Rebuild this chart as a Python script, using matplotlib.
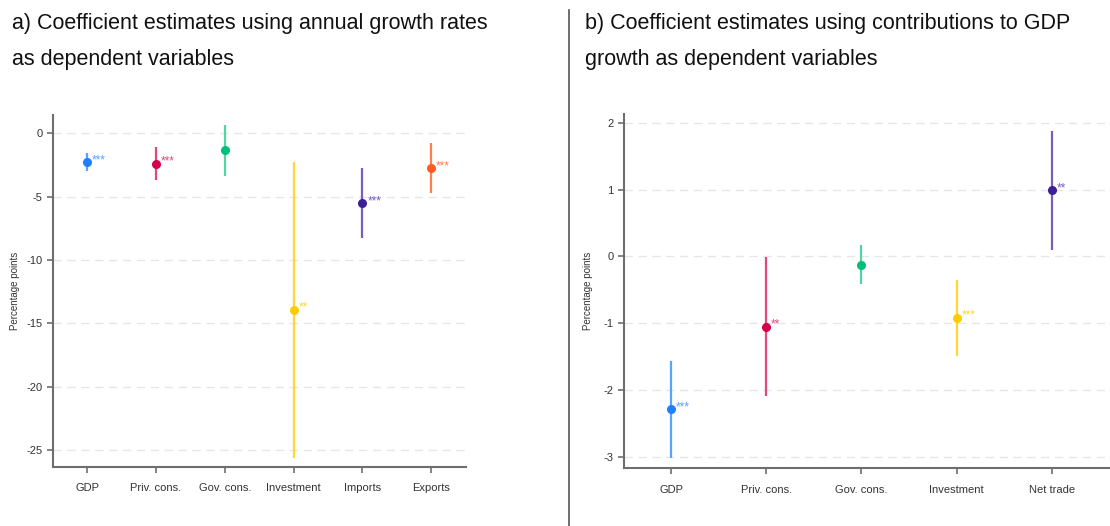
#!/usr/bin/env python3
"""Coefficient plots: annual growth rates vs contributions to GDP growth."""
import matplotlib
matplotlib.use("Agg")
import matplotlib.pyplot as plt
from matplotlib.lines import Line2D

plt.rcParams["font.family"] = ["Liberation Sans", "DejaVu Sans"]

# Panel a) - annual growth rates
CATS_A = ["GDP", "Priv. cons.", "Gov. cons.", "Investment", "Imports", "Exports"]
COEF_A = [-2.29, -2.40, -1.34, -13.92, -5.50, -2.76]
LOW_A = [-2.97, -3.68, -3.37, -25.6, -8.24, -4.74]
HIGH_A = [-1.58, -1.10, 0.66, -2.24, -2.74, -0.79]
STARS_A = ["***", "***", "", "**", "***", "***"]

# Panel b) - contributions to GDP growth
CATS_B = ["GDP", "Priv. cons.", "Gov. cons.", "Investment", "Net trade"]
COEF_B = [-2.29, -1.05, -0.135, -0.92, 0.99]
LOW_B = [-3.01, -2.09, -0.41, -1.49, 0.10]
HIGH_B = [-1.56, -0.01, 0.165, -0.35, 1.87]
STARS_B = ["***", "**", "", "***", "**"]

COLORS = {
    "GDP": "#1f7fff",
    "Priv. cons.": "#d6004c",
    "Gov. cons.": "#00bf7a",
    "Investment": "#ffcc00",
    "Imports": "#3e1e96",
    "Net trade": "#3e1e96",
    "Exports": "#ff5a24",
}
LINE_COLORS = {
    "GDP": "#5aa2ff",
    "Priv. cons.": "#e04a7a",
    "Gov. cons.": "#4fd6a2",
    "Investment": "#ffd633",
    "Imports": "#7a5cc0",
    "Net trade": "#7a5cc0",
    "Exports": "#ff7e52",
}

W, H = 1110, 526


def draw_panel(ax, cats, coef, low, high, stars, yticks, ylim, xlim, yoff):
    x = list(range(1, len(cats) + 1))
    for xi, c, lo, hi, c_coef, st in zip(x, cats, low, high, coef, stars):
        ax.plot([xi, xi], [lo, hi], color=LINE_COLORS[c], lw=1.6, solid_capstyle="butt", zorder=3)
        ax.plot(xi, c_coef, "o", color=COLORS[c], ms=5.5, zorder=4)
        if st:
            ax.annotate(st, (xi, c_coef), xytext=(3.5, 1.5), textcoords="offset points",
                        ha="left", va="center", fontsize=8.5, color=LINE_COLORS[c])
    ax.set_xticks(x)
    ax.set_xticklabels(cats)
    ax.set_yticks(yticks)
    ax.set_yticklabels([str(t) for t in yticks])
    ax.set_xlim(*xlim)
    ax.set_ylim(*ylim)
    for t in yticks:
        ax.axhline(t, color="#e6e6e6", lw=1, ls=(0, (6, 4)), zorder=1)
    for s in ["top", "right"]:
        ax.spines[s].set_visible(False)
    for s in ["left", "bottom"]:
        ax.spines[s].set_color("#6e6e6e")
        ax.spines[s].set_linewidth(1.5)
    ax.tick_params(axis="both", colors="#6e6e6e", labelcolor="#333333", labelsize=8,
                   length=4, width=1.2)
    ax.tick_params(axis="x", pad=8)
    ax.set_ylabel("Percentage points", fontsize=7, color="#333333")
    ax.yaxis.set_label_coords(yoff, 0.5)


fig = plt.figure(figsize=(W / 100, H / 100), dpi=100)

ax_a = fig.add_axes([52.7 / W, 1 - 466.7 / H, 413 / W, 351.7 / H])
draw_panel(ax_a, CATS_A, COEF_A, LOW_A, HIGH_A, STARS_A,
           [0, -5, -10, -15, -20, -25], (-26.3, 1.45), (0.5, 6.5), -33 / 413)

ax_b = fig.add_axes([624 / W, 1 - 468.3 / H, (W - 624) / W, 354.3 / H])
draw_panel(ax_b, CATS_B, COEF_B, LOW_B, HIGH_B, STARS_B,
           [2, 1, 0, -1, -2, -3], (-3.17, 2.13), (0.506, 5.61), -31 / 486)

TITLE_SIZE = 15.5
fig.text(12 / W, 1 - 24 / H, "a) Coefficient estimates using annual growth rates",
         fontsize=TITLE_SIZE, va="center", ha="left", color="#111111")
fig.text(12 / W, 1 - 60 / H, "as dependent variables",
         fontsize=TITLE_SIZE, va="center", ha="left", color="#111111")
fig.text(585 / W, 1 - 24 / H, "b) Coefficient estimates using contributions to GDP",
         fontsize=TITLE_SIZE, va="center", ha="left", color="#111111")
fig.text(585 / W, 1 - 60 / H, "growth as dependent variables",
         fontsize=TITLE_SIZE, va="center", ha="left", color="#111111")

fig.add_artist(Line2D([569 / W, 569 / W], [0, 1 - 10 / H], transform=fig.transFigure,
                      color="#555555", lw=1.2))

fig.savefig("out.png", dpi=100)
